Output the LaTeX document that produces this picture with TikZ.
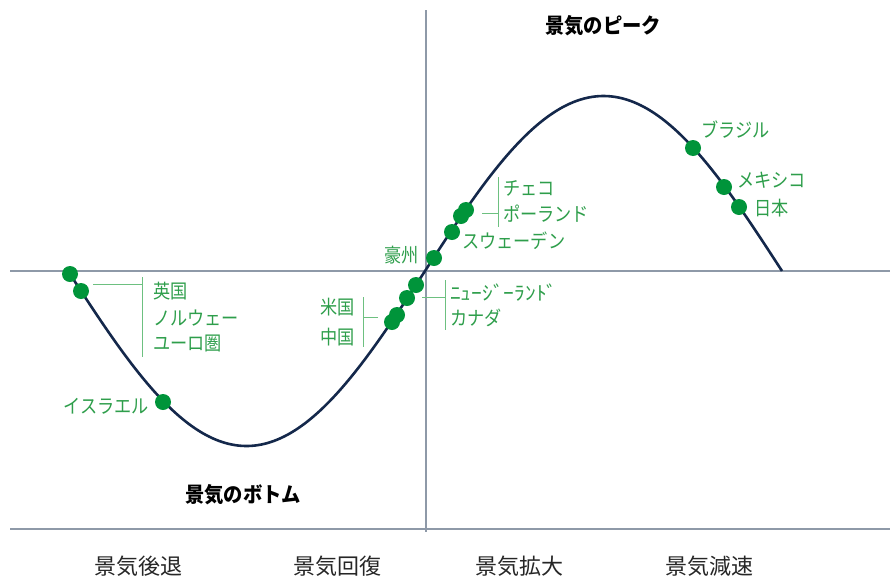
\documentclass[tikz,border=0pt]{standalone}
\usepackage{fontspec}
\setmainfont{Noto Sans CJK JP}
\newfontfamily\jp{Noto Sans CJK JP}
\newfontfamily\jpn[FakeStretch=0.88]{Noto Sans CJK JP}
\newfontfamily\jph[FakeStretch=1.1]{Noto Sans CJK JP}
\newfontfamily\jpt[FakeStretch=0.92]{Noto Sans CJK JP}
\begin{document}
\begin{tikzpicture}[x=1pt,y=-1pt,
  axis/.style={draw=axisgray,line width=1.4pt},
  curve/.style={draw=navy,line width=2.6pt},
  dot/.style={circle,fill=dotgreen,inner sep=0pt,minimum size=16pt},
  lbl/.style={text=lblgreen,font=\jpn\fontsize{19.5}{21}\selectfont,inner sep=0pt},
  brk/.style={draw=brkgreen,line width=1pt},
  title/.style={font=\jpt\bfseries\fontsize{21}{23}\selectfont,inner sep=0pt},
  phase/.style={font=\jp\fontsize{22}{24}\selectfont,inner sep=0pt,text=black!85}]
\definecolor{axisgray}{HTML}{8E99A8}
\definecolor{navy}{HTML}{14284B}
\definecolor{dotgreen}{HTML}{00943A}
\definecolor{lblgreen}{HTML}{2E9E4B}
\definecolor{brkgreen}{HTML}{6DC080}
\useasboundingbox (0,0) rectangle (890,576);
% axes
\coordinate (vt) at (426,10);
\coordinate (vb) at (426,532);
\coordinate (hl) at (10,271);
\coordinate (hr) at (890,271);
\coordinate (bl) at (10,529);
\coordinate (br) at (890,529);
\draw[axis] (vt) -- (vb);
\draw[axis] (hl) -- (hr);
\draw[axis] (bl) -- (br);
% curve
\draw[curve] plot[domain=68:782,samples=160,smooth] (\x,{271+175*sin((\x-68)*0.504202)});
% dots
\node[dot] (uk)  at (70,274) {};
\node[dot] (no)  at (81,291) {};
\node[dot] (il)  at (163,402) {};
\node[dot] (cn)  at (392,322) {};
\node[dot] (us)  at (397,315) {};
\node[dot] (ca)  at (407,298) {};
\node[dot] (nz)  at (416,285) {};
\node[dot] (au)  at (434,258) {};
\node[dot] (se)  at (452,232) {};
\node[dot] (pl)  at (461,216) {};
\node[dot] (cz)  at (466,210) {};
\node[dot] (br1) at (693,148) {};
\node[dot] (mx)  at (724,187) {};
\node[dot] (jpn) at (739,207) {};
% labels
\node[lbl,anchor=west] (tuk) at (153,291) {英国};
\node[lbl,anchor=west] (tno) at (153,318) {ノルウェー};
\node[lbl,anchor=west] (teu) at (153,344) {ユーロ圏};
\node[lbl,anchor=east] (til) at (149,406) {イスラエル};
\node[lbl,anchor=east] (tus) at (355,307) {米国};
\node[lbl,anchor=east] (tcn) at (355,337) {中国};
\node[lbl,anchor=west,font=\jph\fontsize{19.5}{21}\selectfont] (tnz) at (450,293) {ﾆｭｰｼﾞｰﾗﾝﾄﾞ};
\node[lbl,anchor=west] (tca) at (450,318) {カナダ};
\node[lbl,anchor=east] (tau) at (419,255) {豪州};
\node[lbl,anchor=west] (tse) at (462,241) {スウェーデン};
\node[lbl,anchor=west] (tcz) at (503,188) {チェコ};
\node[lbl,anchor=west] (tpl) at (503,214) {ポーランド};
\node[lbl,anchor=west] (tbr) at (701,130) {ブラジル};
\node[lbl,anchor=west] (tmx) at (737,180) {メキシコ};
\node[lbl,anchor=west] (tjp) at (754,208) {日本};
% brackets
\coordinate (b1a) at (93,284);  \coordinate (b1b) at (142,284);
\coordinate (b1t) at (142,277); \coordinate (b1d) at (142,357);
\draw[brk] (b1a) -- (b1b);
\draw[brk] (b1t) -- (b1d);
\coordinate (b2a) at (482,213); \coordinate (b2b) at (498,213);
\coordinate (b2t) at (498,177); \coordinate (b2d) at (498,227);
\draw[brk] (b2a) -- (b2b);
\draw[brk] (b2t) -- (b2d);
\coordinate (b3a) at (422,297); \coordinate (b3b) at (445,297);
\coordinate (b3t) at (445,280); \coordinate (b3d) at (445,330);
\draw[brk] (b3a) -- (b3b);
\draw[brk] (b3t) -- (b3d);
\coordinate (b4a) at (378,317); \coordinate (b4b) at (363,317);
\coordinate (b4t) at (363,297); \coordinate (b4d) at (363,347);
\draw[brk] (b4a) -- (b4b);
\draw[brk] (b4t) -- (b4d);
% titles
\node[title] (peak) at (603,26) {景気のピーク};
\node[title] (bottom) at (243,495) {景気のボトム};
% phases
\node[phase] (p1) at (138,566) {景気後退};
\node[phase] (p2) at (337,566) {景気回復};
\node[phase] (p3) at (519,566) {景気拡大};
\node[phase] (p4) at (709,566) {景気減速};
\end{tikzpicture}
\end{document}
